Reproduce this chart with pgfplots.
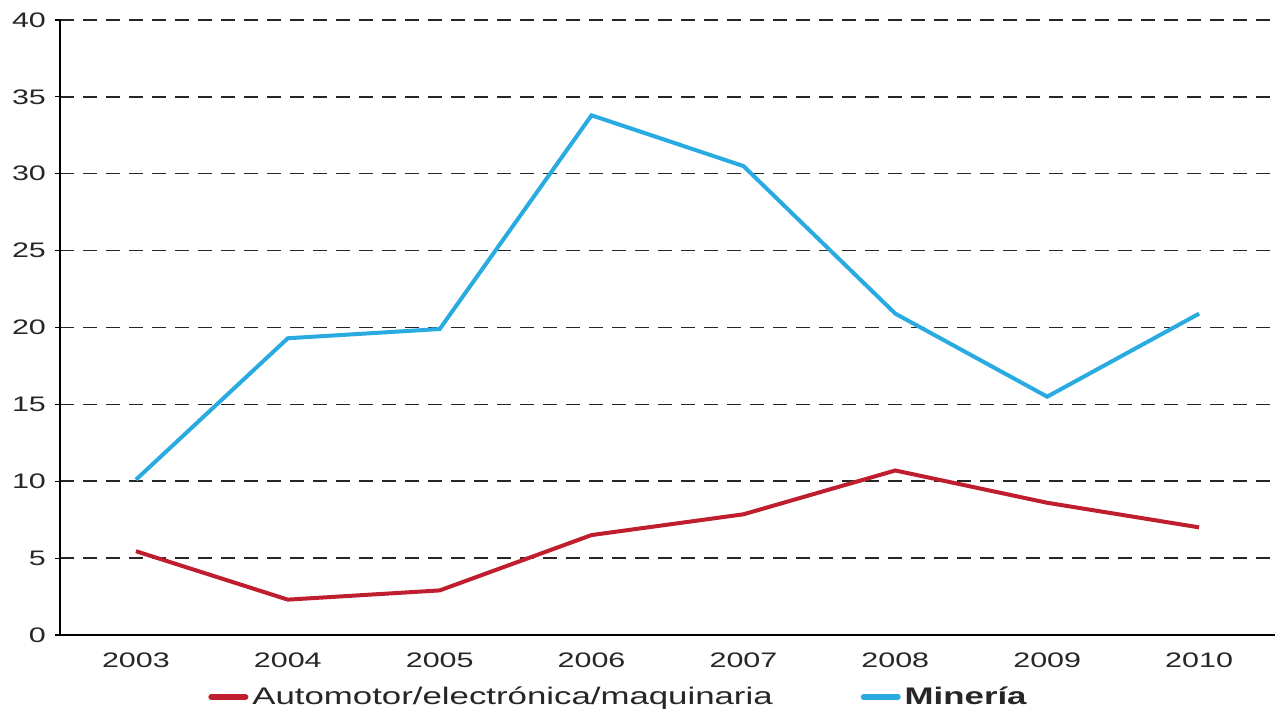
\documentclass[border=0pt]{standalone}
\usepackage{pgfplots}
\pgfplotsset{compat=1.18}
\usepackage{fontspec}
\setmainfont[FakeStretch=1.45]{Liberation Sans}
\definecolor{minblue}{HTML}{29ABE2}
\definecolor{autored}{HTML}{BE1E2D}
\definecolor{txt}{HTML}{262626}
\begin{document}
\begin{tikzpicture}
\begin{axis}[
  name=ax,
  scale only axis,
  width=607.5pt, height=307.5pt,
  xmin=-0.5, xmax=7.5,
  ymin=0, ymax=40,
  ytick={0,5,...,40},
  xtick={0,...,7},
  xticklabels={2003,2004,2005,2006,2007,2008,2009,2010},
  minor xtick={-0.5,0.5,...,7.5},
  axis x line*=bottom, axis y line*=left,
  axis line style={line width=0.8pt, black},
  tick align=outside,
  major tick length=2.5pt, minor tick length=2.5pt,
  xtick style={draw=none},
  minor x tick style={black, line width=0.6pt},
  ytick style={black, line width=0.6pt},
  ymajorgrids,
  major grid style={dash pattern=on 7pt off 4.5pt, line width=0.75pt, black!85},
  /pgf/number format/assume math mode=true,
  ticklabel style={font=\fontsize{10.5}{12}\selectfont, text=txt},
  yticklabel style={xshift=-1pt},
  xticklabel style={yshift=-3pt},
  legend style={at={(0.1218,-0.1008)}, anchor=west, draw=none, fill=none, inner sep=0pt,
    font=\fontsize{12}{14}\selectfont, text=txt, legend columns=2,
    /tikz/every even column/.append style={column sep=42pt}},
  legend cell align=left,
  legend image code/.code={\draw[#1, line width=3pt, line cap=round] (0pt,0pt) -- (17pt,0pt);},
]
\addplot[autored, line width=2pt] coordinates {
 (0,5.45) (1,2.3) (2,2.9) (3,6.5) (4,7.85) (5,10.7) (6,8.6) (7,7.0)};
\addlegendentry{Automotor/electrónica/maquinaria}
\addplot[minblue, line width=2pt] coordinates {
 (0,10.1) (1,19.3) (2,19.9) (3,33.8) (4,30.5) (5,20.9) (6,15.5) (7,20.9)};
\addlegendentry{\textbf{Minería}}
\end{axis}
\path ([shift={(-30pt,-39.5pt)}]ax.south west) rectangle ([shift={(2.5pt,10pt)}]ax.north east);
\end{tikzpicture}
\end{document}
